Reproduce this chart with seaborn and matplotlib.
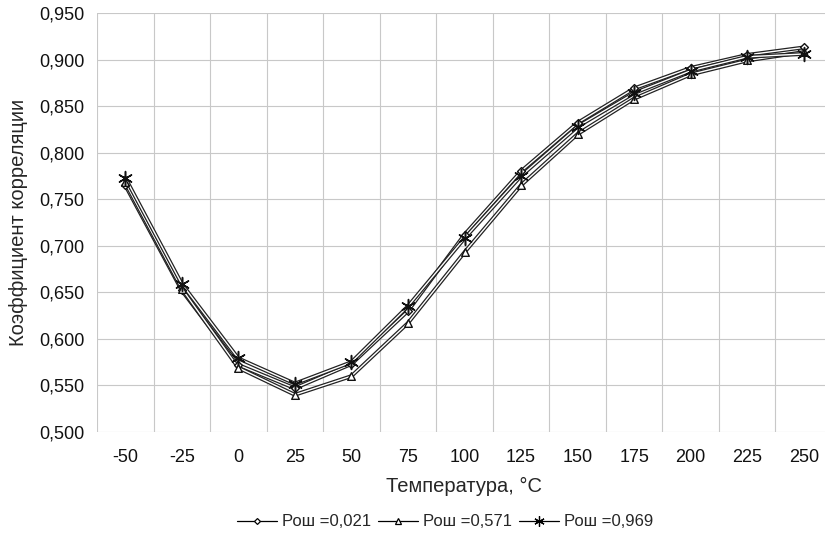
import pandas as pd
import numpy as np
import matplotlib
matplotlib.use('Agg')
import matplotlib.pyplot as plt
import matplotlib.patheffects as pe
import seaborn as sns

# данные
temps = [-50, -25, 0, 25, 50, 75, 100, 125, 150, 175, 200, 225, 250]
r_0021 = [0.765, 0.652, 0.572, 0.547, 0.573, 0.630, 0.712, 0.780, 0.832, 0.869, 0.891, 0.905, 0.913]
r_0571 = [0.768, 0.654, 0.569, 0.540, 0.560, 0.617, 0.693, 0.765, 0.820, 0.858, 0.884, 0.899, 0.908]
r_0969 = [0.773, 0.659, 0.579, 0.552, 0.575, 0.635, 0.708, 0.775, 0.828, 0.864, 0.888, 0.903, 0.906]
series_names = ['Рош =0,021', 'Рош =0,571', 'Рош =0,969']
y_ticks = [0.50, 0.55, 0.60, 0.65, 0.70, 0.75, 0.80, 0.85, 0.90, 0.95]
y_tick_labels = ['0,500', '0,550', '0,600', '0,650', '0,700', '0,750', '0,800', '0,850', '0,900', '0,950']

df = pd.DataFrame({
    'T': temps * 3,
    'r': r_0021 + r_0571 + r_0969,
    'series': np.repeat(series_names, len(temps)),
})

sns.set_style('white')
plt.rcParams['font.family'] = ['Liberation Sans', 'DejaVu Sans']

fig = plt.figure(figsize=(8.25, 5.35), dpi=100)
ax = fig.add_axes([97 / 825, 1 - 432 / 535, 735 / 825, 419 / 535])

markers = {series_names[0]: 'D', series_names[1]: '^', series_names[2]: (6, 2, 0)}
sizes = {series_names[0]: 4, series_names[1]: 5.5, series_names[2]: 10}

for name in series_names:
    sub = df[df['series'] == name]
    # "полая" линия: чёрная обводка + белая середина
    sns.lineplot(data=sub, x='T', y='r', ax=ax, color='white', linewidth=1.0,
                 legend=False,
                 path_effects=[pe.Stroke(linewidth=2.8, foreground='#222222'), pe.Normal()])
for name in series_names[:2]:
    sub = df[df['series'] == name]
    sns.scatterplot(data=sub, x='T', y='r', ax=ax, marker=markers[name],
                    s=sizes[name] ** 2, facecolor='white', edgecolor='#111111',
                    linewidth=1.0, legend=False, zorder=3)
sub = df[df['series'] == series_names[2]]
sns.scatterplot(data=sub, x='T', y='r', ax=ax, marker=markers[series_names[2]],
                s=sizes[series_names[2]] ** 2, color='#111111',
                linewidth=1.1, legend=False, zorder=3)

ax.set_xlim(-62.5, 262.5)
ax.set_ylim(0.5, 0.95)
ax.set_xticks(temps)
ax.set_xticklabels([str(t) for t in temps])
ax.set_xticks(np.arange(-62.5, 263, 25), minor=True)
ax.set_yticks(y_ticks)
ax.set_yticklabels(y_tick_labels)
ax.grid(False)
ax.grid(which='minor', axis='x', color='#c8c8c8', linewidth=0.8)
ax.grid(which='major', axis='y', color='#c8c8c8', linewidth=0.8)
ax.tick_params(axis='both', which='both', length=0, labelsize=13, colors='#111111')
ax.tick_params(axis='x', pad=12)
ax.tick_params(axis='y', pad=9)
for s in ax.spines.values():
    s.set_visible(False)

ax.set_xlabel('Температура, °C', fontsize=14.5, labelpad=8)
ax.set_ylabel('Коэффициент корреляции', fontsize=14.5, labelpad=8)

handles = []
for name in series_names:
    h, = ax.plot([], [], color='black', linewidth=0.9, marker=markers[name],
                 markersize=sizes[name] * 0.75, markerfacecolor='white',
                 markeredgecolor='black', markeredgewidth=0.9)
    handles.append(h)
fig.legend(handles, series_names, loc='center', bbox_to_anchor=(445 / 825, 1 - 522 / 535),
           ncol=3, frameon=False, fontsize=12, handlelength=2.4, handletextpad=0.3,
           columnspacing=0.4)

plt.savefig('out.png', dpi=100)
